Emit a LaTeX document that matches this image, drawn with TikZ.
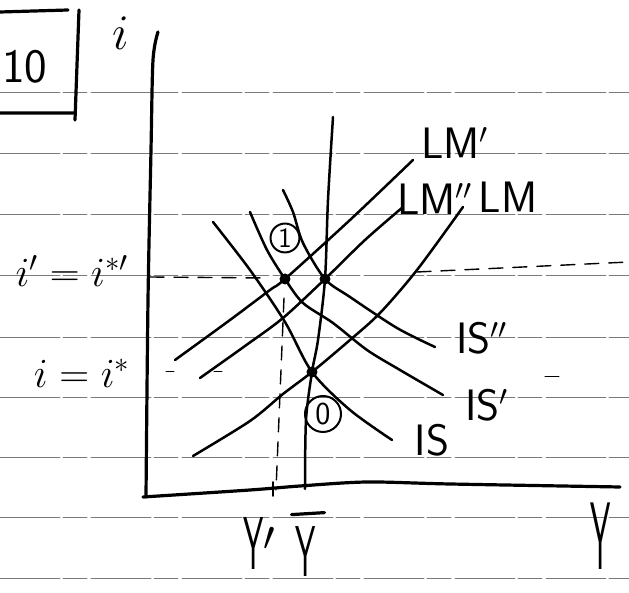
\documentclass[tikz,border=0pt]{standalone}
\usepackage{amsmath,graphicx}
\usetikzlibrary{arrows.meta,calc,positioning}
\definecolor{renglon}{HTML}{7A7A7A}

\begin{document}
\begin{tikzpicture}[x=0.5pt, y=-0.5pt, line cap=round, line join=round,
      trazo/.style={line width=1.25pt},
      eje/.style={line width=1.6pt},
      renglonado/.style={draw=renglon, line width=0.45pt, dash pattern=on 30pt off 1.5pt on 12pt off 2pt},
      guia/.style={line width=0.7pt, dash pattern=on 7pt off 5pt},
      etiqueta/.style={font=\fontsize{22}{24}\selectfont\sffamily, inner sep=0pt},
      letray/.style={font=\fontsize{30}{32}\selectfont\sffamily, inner sep=0pt},
      punto/.style={circle, fill=black, inner sep=0pt, minimum size=5.5pt},
      circulo/.style={draw, circle, line width=1pt, inner sep=1pt, font=\fontsize{14}{16}\selectfont\sffamily}]
    \clip (0,0) rectangle (629,593);
    \fill[white] (0,0) rectangle (629,593);
    \foreach \y in {92,153,214,275,337,397,457,517,578}
      \draw[renglonado] (0,\y) -- (629,\y);
    \draw[eje] (0,12) -- (68,10) (79,10) -- (75,120) (0,113) -- (73,113);
    \node[etiqueta, font=\fontsize{24}{26}\selectfont\sffamily] (num) at (25,67) {10};
    \draw[eje] plot[smooth] coordinates {(158,32) (153,60) (151,150) (148,300) (146,497)};
    \draw[eje] plot[smooth] coordinates {(143,497) (250,490) (300,486) (367,482) (450,484) (620,487)};
    \node[etiqueta, font=\fontsize{24}{26}\selectfont] (ieje) at (121,33) {$i$};
    \coordinate (E0) at (312,372);
    \coordinate (E1) at (285,279);
    \coordinate (E2) at (325,279);
    \draw[guia] (150,277) -- (268,278);
    \draw[guia] (417,272) -- (629,262);
    \draw[guia, line width=0.5pt, dash pattern=on 4pt off 20pt] (166,372) -- (232,372);
    \draw[guia, line width=0.5pt] (545,377) -- (568,377);
    \draw[guia] (284,298) -- (276,490);
    \draw[trazo, line width=0.8pt] (273,482) -- (273,496);
    \draw[trazo] plot[smooth] coordinates {(333,117) (328,200) (E2) (318,340) (E0) (306,420) (305,489)};
    \draw[trazo] plot[smooth] coordinates {(213,222) (250,270) (285,322) (E0) (350,410) (392,440)};
    \draw[trazo] plot[smooth] coordinates {(250,212) (267,250) (E1) (303,303) (333,323) (367,350) (400,370) (443,395)};
    \draw[trazo] plot[smooth] coordinates {(283,190) (293,212) (303,243) (E2) (350,297) (397,328) (435,347)};
    \draw[trazo] plot[smooth] coordinates {(175,360) (230,320) (270,290) (E1) (350,220) (413,160)};
    \draw[trazo] plot[smooth] coordinates {(200,378) (245,346) (283,318) (E2) (365,240) (403,207)};
    \draw[trazo] plot[smooth] coordinates {(193,456) (250,421) (283,394) (E0) (350,340) (380,313) (417,270) (463,207)};
    \node[punto] (p0) at (E0) {};
    \node[punto] (p1) at (E1) {};
    \node[punto] (p2) at (E2) {};
    \node[etiqueta] (lm1) at (455,143) {LM$'$};
    \node[etiqueta] (lm2) at (435,199) {LM$''$};
    \node[etiqueta] (lm) at (508,197) {LM};
    \node[etiqueta] (is2) at (482,338) {IS$''$};
    \node[etiqueta] (is1) at (487,405) {IS$'$};
    \node[etiqueta] (is) at (432,440) {IS};
    \node[circulo, minimum size=12pt] (c1) at (285,238) {1};
    \node[circulo, minimum size=18pt, font=\fontsize{16}{18}\selectfont\sffamily] (c0) at (323,414) {0};
    \node[etiqueta, font=\fontsize{22}{24}\selectfont] (imas) at (72,271) {$i'=i^{*\prime}$};
    \node[etiqueta, font=\fontsize{22}{24}\selectfont] (iest) at (82,373) {$i=i^{*}$};
    \node[letray] (yp) at (260,543) {\scalebox{0.54}[1.25]{Y}$'$};
    \node[letray] (ybar) at (306,552) {\scalebox{0.54}[1.2]{Y}};
    \draw[eje] ([yshift=6pt,xshift=-2pt]ybar.north west) -- ([yshift=7pt,xshift=4pt]ybar.north east);
    \node[letray] (yy) at (601,536) {\scalebox{0.54}[1.6]{Y}};
\end{tikzpicture}
\end{document}
